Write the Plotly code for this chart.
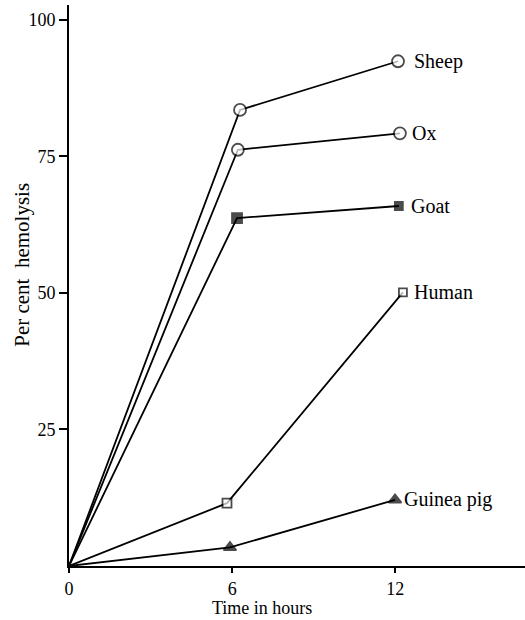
import plotly.graph_objects as go

# Hemolysis time course per species (hours, percent hemolysis)
species = ["Sheep", "Ox", "Goat", "Human", "Guinea pig"]
hours = {
    "Sheep": [0, 6.29, 12.1],
    "Ox": [0, 6.21, 12.17],
    "Goat": [0, 6.18, 12.13],
    "Human": [0, 5.81, 12.28],
    "Guinea pig": [0, 5.92, 11.99],
}
hemolysis = {
    "Sheep": [0, 83.5, 92.4],
    "Ox": [0, 76.2, 79.2],
    "Goat": [0, 63.7, 65.9],
    "Human": [0, 11.5, 50.1],
    "Guinea pig": [0, 3.4, 12.1],
}
x_ticks = [0, 6, 12]
y_ticks = [25, 50, 75, 100]
x_title = "Time in hours"
y_title = "Per cent  hemolysis"

# marker style per species: (symbol, sizes, fill)
styles = {
    "Sheep": ("circle", [0, 12, 12], "white"),
    "Ox": ("circle", [0, 12, 12], "white"),
    "Goat": ("square", [0, 10, 8], "black"),
    "Human": ("square", [0, 9, 8], "white"),
    "Guinea pig": ("triangle-up", [0, 11, 11], "black"),
}
label_shift = {"Sheep": 14, "Ox": 10, "Goat": 10, "Human": 9, "Guinea pig": 7}

FONT = "Liberation Serif, Times New Roman, serif"

fig = go.Figure()
for name in species:
    sym, sizes, fill = styles[name]
    fig.add_trace(go.Scatter(
        x=hours[name], y=hemolysis[name], mode="lines+markers", name=name,
        line=dict(color="black", width=1.8),
        marker=dict(symbol=sym, size=sizes, color=fill,
                    line=dict(color="black", width=1.8)),
        showlegend=False, hoverinfo="skip",
    ))
    fig.add_annotation(
        x=hours[name][-1], y=hemolysis[name][-1], text=name,
        xref="x", yref="y", xanchor="left", yanchor="middle",
        xshift=label_shift[name], showarrow=False,
        font=dict(family=FONT, size=20, color="black"),
    )

# axis titles
fig.add_annotation(
    text=x_title, xref="paper", yref="paper", x=0.423, y=-0.075,
    xanchor="center", yanchor="middle", showarrow=False,
    font=dict(family=FONT, size=18, color="black"),
)
fig.add_annotation(
    text=y_title, xref="paper", yref="paper", x=-0.103, y=0.537,
    xanchor="center", yanchor="middle", textangle=-90, showarrow=False,
    font=dict(family=FONT, size=21, color="black"),
)

fig.update_layout(
    width=525, height=620,
    margin=dict(l=69, r=0, t=5, b=54),
    paper_bgcolor="white", plot_bgcolor="white",
    font=dict(family=FONT, size=18, color="black"),
    xaxis=dict(
        range=[0, 16.77], tickvals=x_ticks, ticktext=[str(v) for v in x_ticks],
        showgrid=False, zeroline=False, showline=True, linecolor="black",
        linewidth=1.8, ticks="outside", ticklen=5, tickwidth=1.5,
        tickcolor="black", tickfont=dict(family=FONT, size=18),
    ),
    yaxis=dict(
        range=[0, 102.7], tickvals=y_ticks, ticktext=[str(v) for v in y_ticks],
        showgrid=False, zeroline=False, showline=True, linecolor="black",
        linewidth=1.8, ticks="outside", ticklen=8, tickwidth=1.5,
        tickcolor="black", tickfont=dict(family=FONT, size=18),
    ),
)

fig.write_html("out.html")
